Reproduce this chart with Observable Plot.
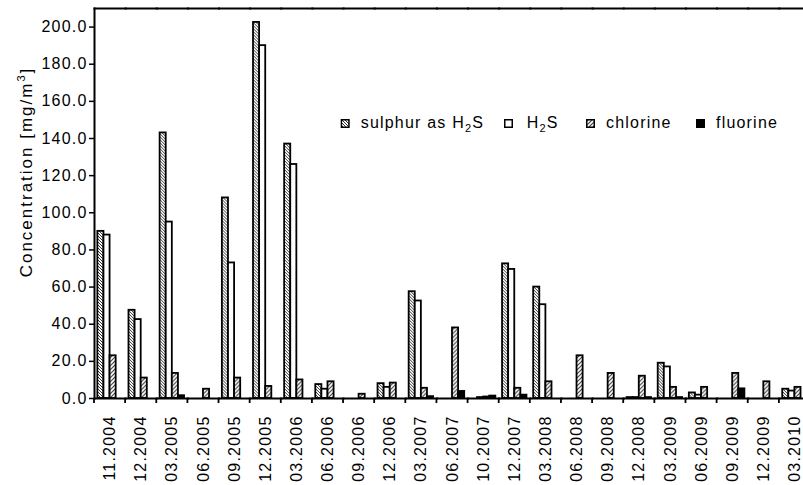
<!DOCTYPE html>
<html>
<head>
<meta charset="utf-8">
<script src="https://cdn.jsdelivr.net/npm/d3@7"></script>
<script src="https://cdn.jsdelivr.net/npm/@observablehq/plot@0.6"></script>
<style>
  html, body { margin: 0; padding: 0; background: white; overflow: hidden; }
  #chart { position: relative; width: 803px; height: 485px; }
</style>
</head>
<body>
<div id="chart"></div>
<script>
const categories = ["11.2004","12.2004","03.2005","06.2005","09.2005","12.2005","03.2006","06.2006","09.2006","12.2006","03.2007","06.2007","10.2007","12.2007","03.2008","06.2008","09.2008","12.2008","03.2009","06.2009","09.2009","12.2009","03.2010"];
const seriesKeys = ["sulphur as H2S", "H2S", "chlorine", "fluorine"];
const sulphur  = [90, 47.5, 143, null, 108, 202.5, 137, 7.5, null, 8, 57.5, null, null, 72.5, 60, null, null, 0.5, 19, 3, null, null, 5];
const h2s      = [88, 42.5, 95, null, 73, 190, 126, 5, null, 6, 52.5, null, 0.5, 69.5, 50.5, null, null, 0.5, 17, 1.8, null, null, 4];
const chlorine = [23, 11, 13.5, 5, 11, 6.5, 10, 9, 2.3, 8.3, 5.5, 38, 0.8, 5.5, 9, 23, 13.5, 12, 6, 6, 13.5, 9, 6];
const fluorine = [null, null, 1.5, null, null, null, null, null, null, null, 1, 3.8, 1.3, 1.8, null, null, null, 0.5, 0.5, null, 5.2, null, null];
const yTicks = [0, 20, 40, 60, 80, 100, 120, 140, 160, 180, 200];

const seriesArrays = [sulphur, h2s, chlorine, fluorine];
const table = [];
categories.forEach((c, i) => {
  seriesKeys.forEach((s, j) => {
    const v = seriesArrays[j][i];
    if (v != null) table.push({date: c, series: s, value: v});
  });
});

const W = 803, H = 485, mL = 94, mR = -7, mT = 8, mB = 87;

const chart = Plot.plot({
  width: W, height: H,
  marginLeft: mL, marginRight: mR, marginTop: mT, marginBottom: mB,
  style: {fontFamily: "'Liberation Sans', Arial, sans-serif", fontSize: "16px", letterSpacing: "1.2px", color: "black", background: "white", overflow: "hidden"},
  fx: {domain: categories, padding: 0, round: false, label: null},
  x: {domain: seriesKeys, paddingInner: 0, paddingOuter: 0.55, round: false, axis: null},
  y: {domain: [0, 210], label: null},
  color: {domain: seriesKeys, range: ["url(#pat-sulphur)", "white", "url(#pat-chlorine)", "black"]},
  marks: [
    Plot.barY(table, {fx: "date", x: "series", y: "value", fill: "series", stroke: "black", strokeWidth: 1.8}),
    Plot.frame({anchor: "top", strokeWidth: 2}),
    Plot.frame({anchor: "bottom", strokeWidth: 2}),
    Plot.frame({anchor: "left", facetAnchor: "left", strokeWidth: 2}),
    Plot.axisY(yTicks, {tickFormat: d3.format(".1f"), tickSize: 5, tickPadding: 2, strokeWidth: 1.5, label: null}),
    Plot.axisFx({anchor: "bottom", tickSize: 0, tickRotate: -90, tickPadding: 17, label: null})
  ]
});

document.getElementById("chart").appendChild(chart);

const svg = d3.select(chart);
const defs = svg.insert("defs", ":first-child");
const p1 = defs.append("pattern").attr("id", "pat-sulphur").attr("patternUnits", "userSpaceOnUse").attr("width", 3).attr("height", 3);
p1.append("rect").attr("width", 3).attr("height", 3).attr("fill", "white");
p1.append("path").attr("d", "M0,0L3,3M-1,2L1,4M2,-1L4,1").attr("stroke", "#333").attr("stroke-width", 1);
const p2 = defs.append("pattern").attr("id", "pat-chlorine").attr("patternUnits", "userSpaceOnUse").attr("width", 4).attr("height", 4);
p2.append("rect").attr("width", 4).attr("height", 4).attr("fill", "white");
p2.append("path").attr("d", "M0,4L4,0M-1,1L1,-1M3,5L5,3").attr("stroke", "#444").attr("stroke-width", 1.2);

// Category boundary ticks on the x axis, placed with the fx scale
const fx = chart.scale("fx");
const y0 = chart.scale("y").apply(0);
svg.append("g").attr("stroke", "black").attr("stroke-width", 1.8)
  .selectAll("line").data(categories).join("line")
  .attr("x1", d => fx.apply(d)).attr("x2", d => fx.apply(d))
  .attr("y1", y0).attr("y2", y0 + 5);

// Y axis title
const yt = svg.append("text")
  .attr("transform", "translate(32,172) rotate(-90)")
  .attr("text-anchor", "middle")
  .attr("fill", "black")
  .style("font-size", "17px")
  .style("letter-spacing", "2px");
yt.append("tspan").text("Concentration [mg/m");
yt.append("tspan").attr("dy", -7).style("font-size", "11px").text("3");
yt.append("tspan").attr("dy", 7).style("font-size", "17px").text("]");

// Legend
const legendItems = [
  {key: seriesKeys[0], sx: 340.7, tx: 360.7, parts: ["sulphur as H", "2", "S"]},
  {key: seriesKeys[1], sx: 504, tx: 526.7, parts: ["H", "2", "S"]},
  {key: seriesKeys[2], sx: 586, tx: 606, parts: ["chlorine"]},
  {key: seriesKeys[3], sx: 696, tx: 716, parts: ["fluorine"]}
];
const colorFor = {"sulphur as H2S": "url(#pat-sulphur)", "H2S": "white", "chlorine": "url(#pat-chlorine)", "fluorine": "black"};
const lg = svg.append("g").attr("text-anchor", "start");
legendItems.forEach(it => {
  lg.append("rect").attr("x", it.sx + 0.75).attr("y", 119.75).attr("width", 7.5).attr("height", 7.5)
    .attr("fill", colorFor[it.key]).attr("stroke", "black").attr("stroke-width", 1.5);
  const t = lg.append("text").attr("x", it.tx).attr("y", 128).attr("fill", "black").attr("text-anchor", "start");
  if (it.parts.length === 3) {
    t.append("tspan").text(it.parts[0]);
    t.append("tspan").attr("dy", 4).style("font-size", "11px").text(it.parts[1]);
    t.append("tspan").attr("dy", -4).style("font-size", "16px").text(it.parts[2]);
  } else {
    t.text(it.parts[0]);
  }
});
</script>
</body>
</html>
